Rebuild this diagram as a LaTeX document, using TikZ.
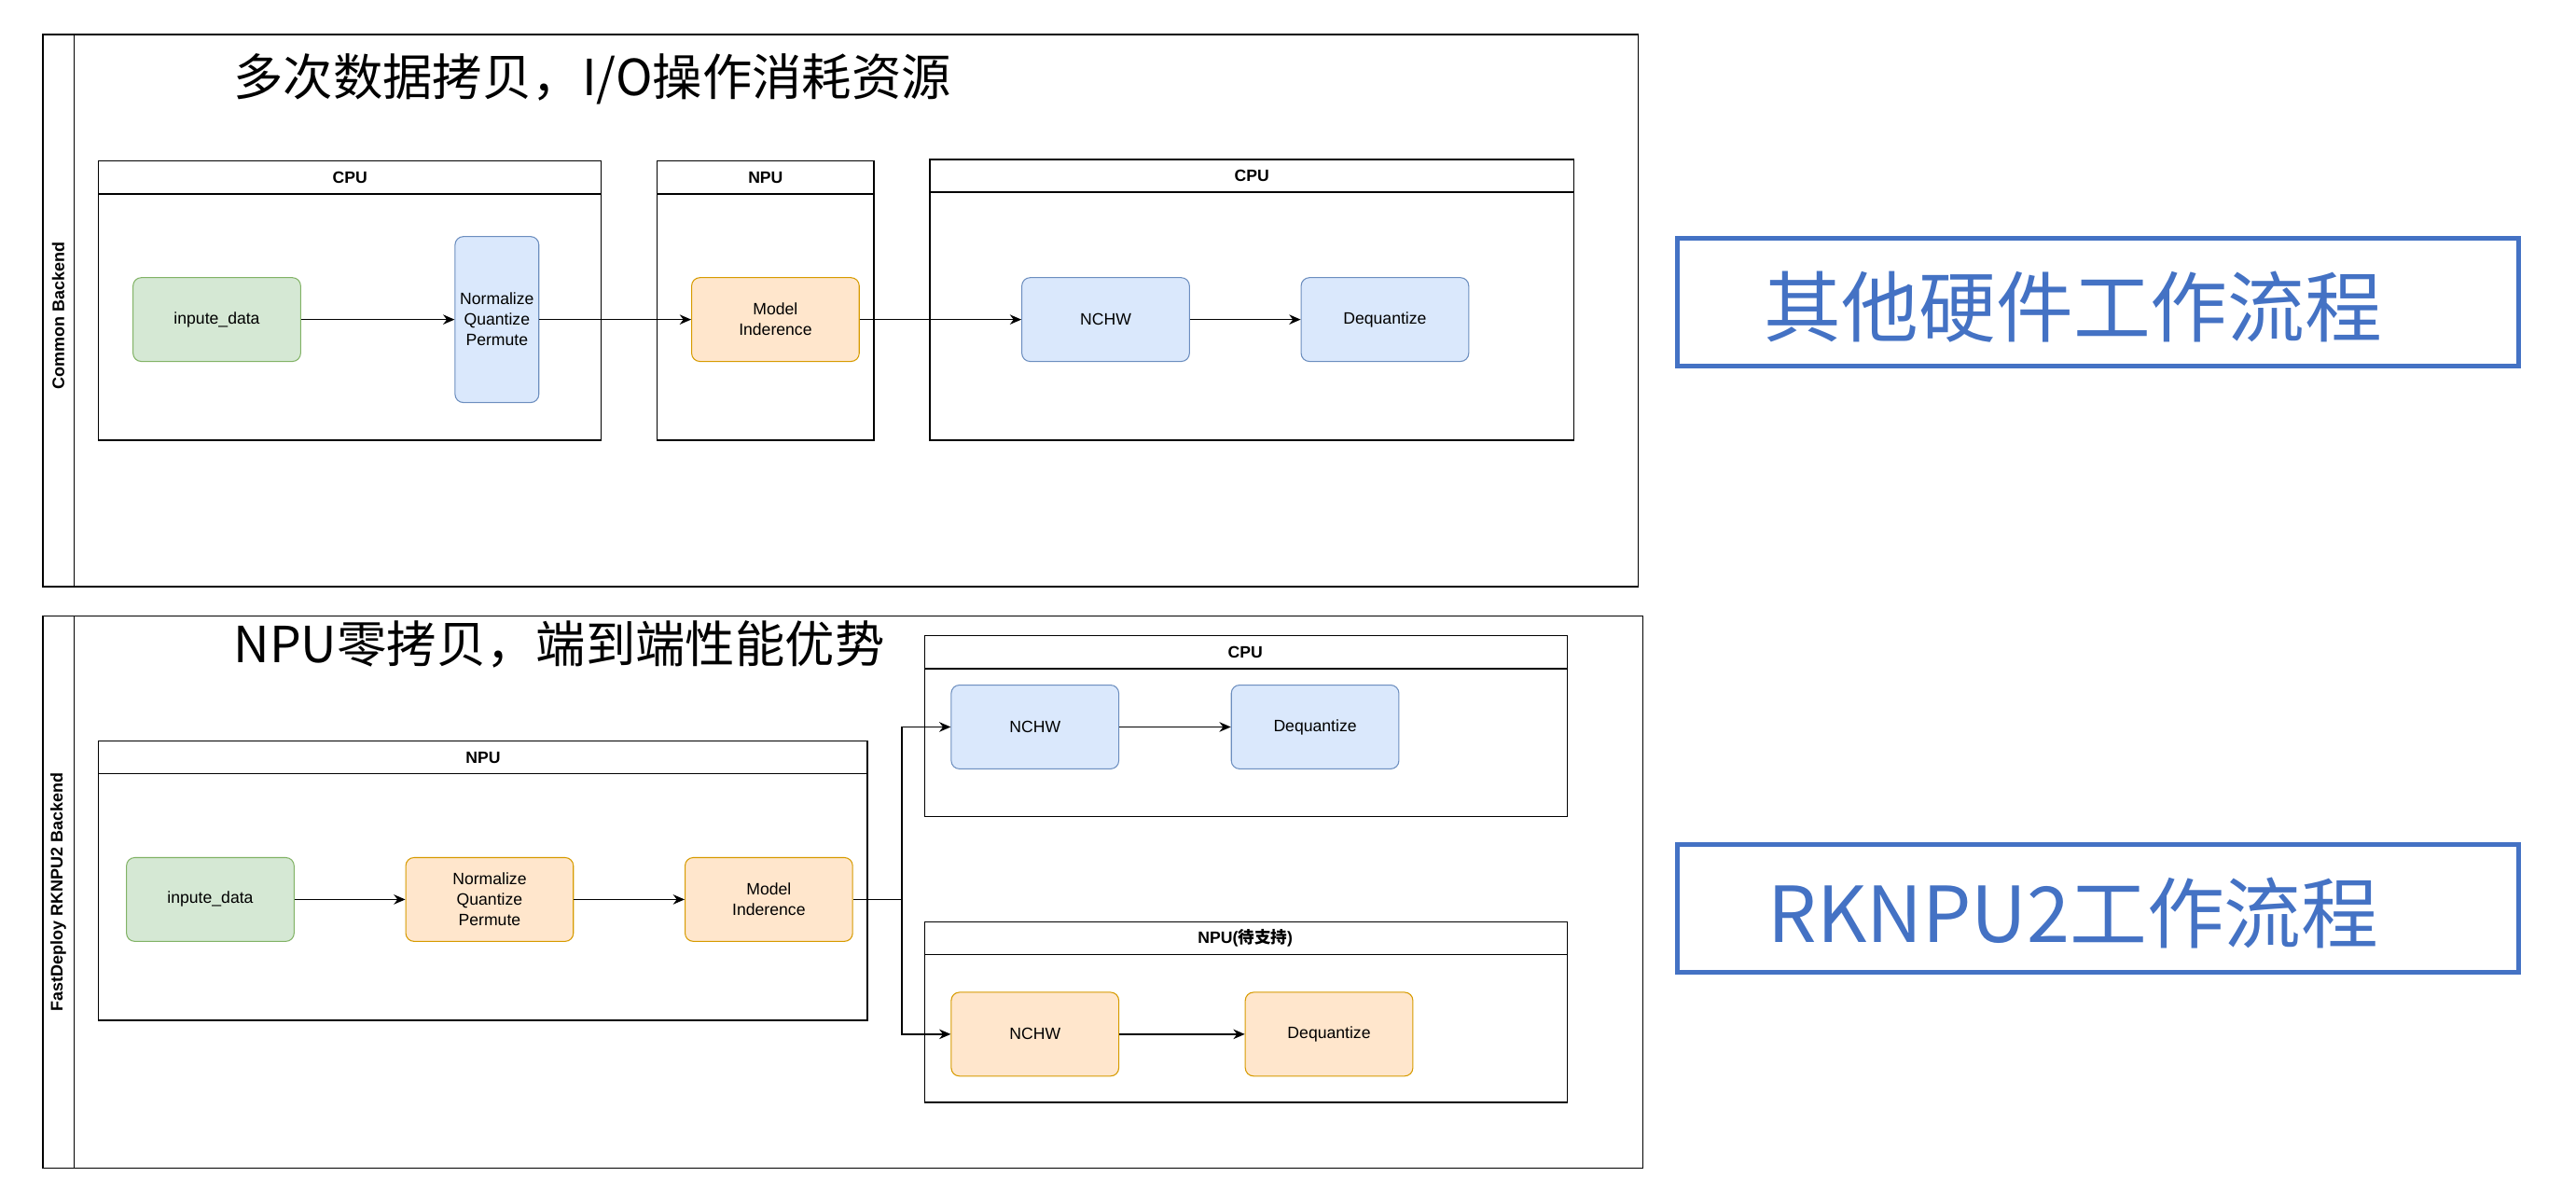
\documentclass[tikz,border=0pt]{standalone}
\usepackage{fontspec}
\setmainfont{Liberation Sans}
\newfontfamily\cjk{Noto Sans CJK SC}
\usetikzlibrary{arrows.meta}
\definecolor{gfill}{HTML}{D5E8D4}\definecolor{gline}{HTML}{82B366}
\definecolor{bfill}{HTML}{DAE8FC}\definecolor{bline}{HTML}{6C8EBF}
\definecolor{ofill}{HTML}{FFE6CC}\definecolor{oline}{HTML}{D79B00}
\definecolor{tagblue}{HTML}{4472C4}
\begin{document}
\begin{tikzpicture}[x=1pt,y=-1pt,
  box/.style={rounded corners=5pt, draw, line width=0.6pt, minimum width=102pt, minimum height=51pt,
    inner sep=0pt, align=center, font=\fontsize{10}{12.5}\selectfont},
  gbox/.style={box, fill=gfill, draw=gline},
  bbox/.style={box, fill=bfill, draw=bline},
  obox/.style={box, fill=ofill, draw=oline},
  hdr/.style={font=\bfseries\fontsize{10}{12}\selectfont, inner sep=0pt},
  plabel/.style={font=\bfseries\fontsize{10.2}{12}\selectfont, rotate=90, inner sep=0pt},
  frame/.style={draw, line width=0.8pt},
  arr/.style={-{Stealth[length=7pt,width=6pt]}, line width=0.8pt},
  ttl/.style={font=\cjk\fontsize{30.3}{34}\selectfont, inner sep=0pt, anchor=west},
  tag/.style={draw=tagblue, line width=2.8pt, minimum width=512pt, minimum height=78pt, inner sep=0pt},
  tagtxt/.style={font=\cjk\fontsize{47}{52}\selectfont, text=tagblue, inner sep=0pt}
]
\fill[white] (0,0) rectangle (1568,716);
\useasboundingbox (0,0) rectangle (1568,716);

% ---------- top pool ----------
\draw[frame] (26,21) rectangle (997,357);
\draw[frame] (45,21) -- (45,357);
\node[plabel] (pl1) at (35.5,192) {Common Backend};
\node[ttl] (t1) at (142,48) {多次数据拷贝，I/O操作消耗资源};

\draw[frame] (60,98) rectangle (366,268);
\draw[frame] (60,118) -- (366,118);
\node[hdr] (h1) at (213,108) {CPU};

\draw[frame] (400,98) rectangle (532,268);
\draw[frame] (400,118) -- (532,118);
\node[hdr] (h2) at (466,108) {NPU};

\draw[frame] (566,97) rectangle (958,268);
\draw[frame] (566,117) -- (958,117);
\node[hdr] (h3) at (762,107) {CPU};

\node[gbox] (in1) at (132,194.5) {inpute\_data};
\node[bbox, minimum width=51pt, minimum height=101pt] (nq1) at (302.5,194.5) {Normalize\\Quantize\\Permute};
\node[obox] (m1) at (472,194.5) {Model\\Inderence};
\node[bbox] (nc1) at (673,194.5) {NCHW};
\node[bbox] (dq1) at (843,194.5) {Dequantize};

\draw[arr] (in1) -- (nq1);
\draw[arr] (nq1) -- (m1);
\draw[arr] (m1) -- (nc1);
\draw[arr] (nc1) -- (dq1);

% ---------- bottom pool ----------
\draw[frame] (26,375) rectangle (1000,711);
\draw[frame] (45,375) -- (45,711);
\node[plabel] (pl2) at (35.5,543) {FastDeploy RKNPU2 Backend};
\node[ttl] (t2) at (142,392) {NPU零拷贝，端到端性能优势};

\draw[frame] (563,387) rectangle (954,497);
\draw[frame] (563,407) -- (954,407);
\node[hdr] (h4) at (758,397) {CPU};

\draw[frame] (60,451) rectangle (528,621);
\draw[frame] (60,471) -- (528,471);
\node[hdr] (h5) at (294,461) {NPU};

\draw[frame] (563,561) rectangle (954,671);
\draw[frame] (563,581) -- (954,581);
\node[hdr] (h6) at (758,571) {NPU({\cjk 待支持})};

\node[gbox] (in2) at (128,547.5) {inpute\_data};
\node[obox] (nq2) at (298,547.5) {Normalize\\Quantize\\Permute};
\node[obox] (m2) at (468,547.5) {Model\\Inderence};
\node[bbox] (nc2) at (630,442.5) {NCHW};
\node[bbox] (dq2) at (800.5,442.5) {Dequantize};
\node[obox] (nc3) at (630,629.5) {NCHW};
\node[obox] (dq3) at (809,629.5) {Dequantize};

\draw[arr] (in2) -- (nq2);
\draw[arr] (nq2) -- (m2);
\coordinate (j) at (549,547.5);
\draw[line width=0.8pt] (m2.east) -- (j);
\draw[arr] (j) |- (nc2.west);
\draw[arr] (j) |- (nc3.west);
\draw[arr] (nc2) -- (dq2);
\draw[arr] (nc3) -- (dq3);

% ---------- right tags ----------
\node[tag] (tag1) at (1277,184) {};
\node[tagtxt] (tt1) at (1262,187) {其他硬件工作流程};
\node[tag] (tag2) at (1277,553) {};
\node[tagtxt] (tt2) at (1262,556) {RKNPU2工作流程};
\end{tikzpicture}
\end{document}
